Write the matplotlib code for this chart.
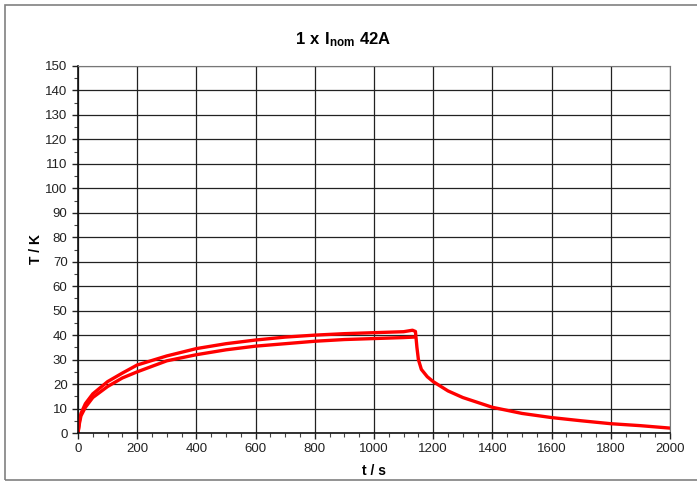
import matplotlib
matplotlib.use("Agg")
import matplotlib.pyplot as plt
from matplotlib.ticker import MultipleLocator
from matplotlib.patches import Rectangle

plt.rcParams['font.family'] = ['Liberation Sans', 'DejaVu Sans']
plt.rcParams['mathtext.fontset'] = 'custom'
plt.rcParams['mathtext.rm'] = 'Liberation Sans'
plt.rcParams['mathtext.bf'] = 'Liberation Sans:bold'

# Heating curve (upper trace) and cooling
t_upper = [0, 5, 10, 25, 50, 100, 150, 200, 300, 400, 500, 600, 700, 800, 900, 1000, 1100, 1130, 1140,
           1145, 1150, 1160, 1180, 1200, 1250, 1300, 1400, 1500, 1600, 1700, 1800, 1900, 2000]
T_upper = [0, 5, 8, 12, 16, 21, 24.5, 27.8, 31.5, 34.5, 36.5, 38, 39.2, 40, 40.6, 41, 41.4, 42, 41.5,
           35, 30, 26, 23, 21, 17.2, 14.5, 10.5, 8, 6.3, 5, 3.8, 3, 2]
# Heating curve (lower trace)
t_lower = [0, 5, 10, 25, 50, 100, 150, 200, 300, 400, 500, 600, 700, 800, 900, 1000, 1100, 1135]
T_lower = [0, 4, 7, 10.5, 14.5, 19, 22.5, 25, 29.5, 32, 34, 35.5, 36.5, 37.5, 38.2, 38.6, 39, 39.2]

title = r"$\mathbf{1\ x\ I_{nom}\ 42A}$"
xlabel = "t / s"
ylabel = "T / K"

fig = plt.figure(figsize=(6.97, 4.84), dpi=100)
fig.patches.append(Rectangle((5/697, 4/484), 1.0, 475/484, transform=fig.transFigure,
                             fill=False, edgecolor='#808080', linewidth=1.2))
ax = fig.add_axes([78/697, 51/484, 592/697, 367/484])

red = '#ff0000'
ax.plot(t_lower, T_lower, color=red, linewidth=2.4, solid_joinstyle='round')
ax.plot(t_upper, T_upper, color=red, linewidth=2.4, solid_joinstyle='round')

ax.set_xlim(0, 2000)
ax.set_ylim(0, 150)
ax.xaxis.set_major_locator(MultipleLocator(200))
ax.xaxis.set_minor_locator(MultipleLocator(50))
ax.yaxis.set_major_locator(MultipleLocator(10))
ax.yaxis.set_minor_locator(MultipleLocator(5))
ax.grid(True, which='major', color='#222222', linewidth=0.9)
ax.set_axisbelow(True)
ax.tick_params(which='major', direction='out', length=4, width=1, labelsize=9.5, colors='#222222')
ax.tick_params(which='minor', direction='out', length=3, width=0.8, colors='#444444')
for s in ['top', 'right']:
    ax.spines[s].set_color('#777777')
for s in ['left', 'bottom']:
    ax.spines[s].set_color('#111111')
    ax.spines[s].set_linewidth(1.2)

ax.set_xlabel(xlabel, fontsize=10, fontweight='bold', labelpad=6)
ax.set_ylabel(ylabel, fontsize=10, fontweight='bold', labelpad=2)
fig.text(0.493, 1 - 40/484, title, ha='center', va='center', fontsize=12)

fig.savefig("out.png", dpi=100)
